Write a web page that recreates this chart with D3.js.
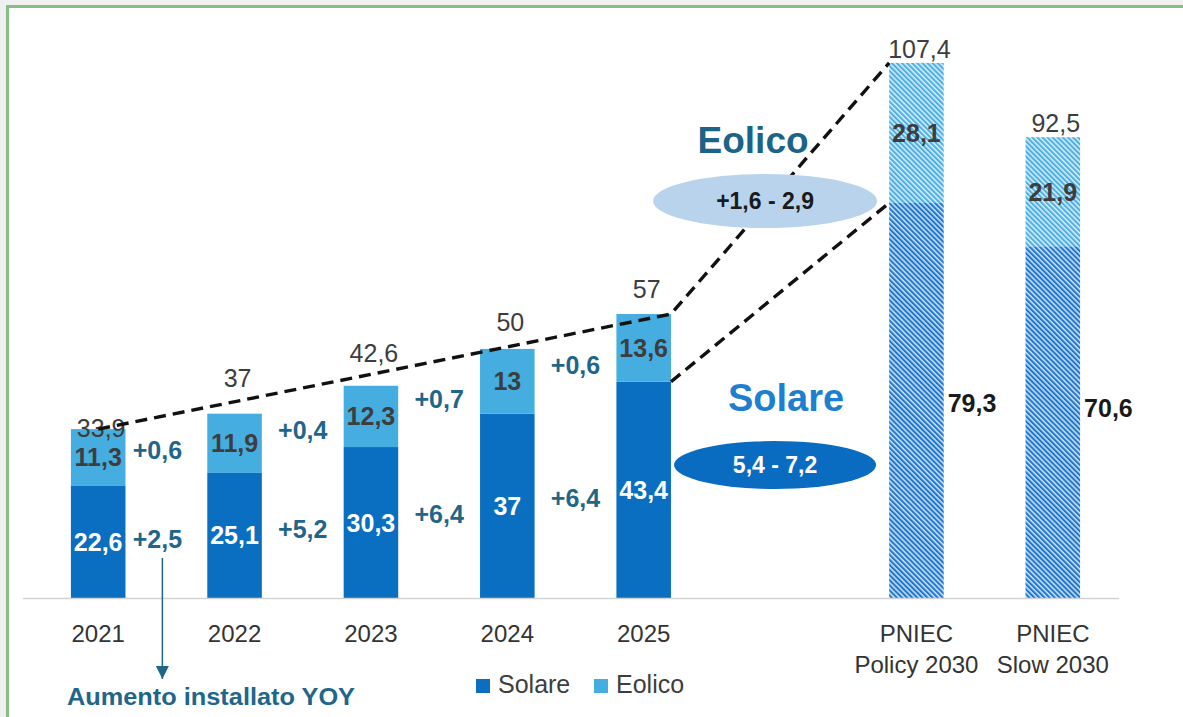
<!DOCTYPE html>
<html>
<head>
<meta charset="utf-8">
<script src="https://cdn.jsdelivr.net/npm/d3@7"></script>
<style>
  body { margin: 0; background: #eff0ef; overflow: hidden; }
  svg { display: block; font-family: 'Liberation Sans', Arial, sans-serif; }
</style>
</head>
<body>
<div id="chart"></div>
<script>
// data
const years = ['2021', '2022', '2023', '2024', '2025']
const scenarios = ['PNIEC Policy 2030', 'PNIEC Slow 2030']
const solare = [22.6, 25.1, 30.3, 37, 43.4, 79.3, 70.6]
const eolico = [11.3, 11.9, 12.3, 13, 13.6, 28.1, 21.9]
const totali = [33.9, 37, 42.6, 50, 57, 107.4, 92.5]
const incrSolare = ['+2,5', '+5,2', '+6,4', '+6,4']
const incrEolico = ['+0,6', '+0,4', '+0,7', '+0,6']
const rangeEolico = '+1,6 - 2,9'
const rangeSolare = '5,4 - 7,2'
const tickLabels = [['2021'], ['2022'], ['2023'], ['2024'], ['2025'], ['PNIEC', 'Policy 2030'], ['PNIEC', 'Slow 2030']]

// layout only (label nudges in px)
const totalLift = [-8, 27, 24, 18, 16, 5, 5]
const solarLabelShift = [0, 0, 0, 0, 0, 3, -14]

let width = 1183
let height = 717

let svg = d3
  .select('#chart')
  .append('svg')
  .attr('width', width)
  .attr('height', height)

// panel
svg.append('rect')
  .attr('x', 7.5).attr('y', 6.5)
  .attr('width', 1220).attr('height', 760)
  .attr('fill', '#fff')
  .attr('stroke', '#85bf85')
  .attr('stroke-width', 3)

const fmt = v => String(v).replace('.', ',')

const cats = years.concat(scenarios)
const rows = cats.map((c, i) => ({ cat: c, solare: solare[i], eolico: eolico[i], totale: totali[i], scen: i >= years.length }))

// scales
let x = d3.scaleBand()
  .domain(years.concat(['gap'], scenarios))
  .range([30, 1121])
  .paddingInner(0.6)
  .paddingOuter(0.3)

let y = d3.scaleLinear().domain([0, 110]).range([598, 50])

const bw = x.bandwidth()
const cx = c => x(c) + bw / 2

// hatch patterns
let defs = svg.append('defs')
function hatch(id, base) {
  let p = defs.append('pattern')
    .attr('id', id)
    .attr('patternUnits', 'userSpaceOnUse')
    .attr('width', 3.6).attr('height', 3.6)
    .attr('patternTransform', 'rotate(-45)')
  p.append('rect').attr('width', 3.6).attr('height', 3.6).attr('fill', base)
  p.append('line').attr('x1', 1).attr('x2', 1).attr('y1', 0).attr('y2', 3.6)
    .attr('stroke', '#fff').attr('stroke-width', 1.2)
}
hatch('hatch-sol', '#1f78cf')
hatch('hatch-eol', '#4cb0e4')

const colors = { solare: '#0a6fc0', eolico: '#46ade0' }

let stack = d3.stack().keys(['solare', 'eolico'])(rows)

svg.append('g')
  .selectAll('g')
  .data(stack)
  .enter()
  .append('g')
  .each(function(layer) {
    d3.select(this)
      .selectAll('rect')
      .data(layer)
      .enter()
      .append('rect')
      .attr('x', d => x(d.data.cat))
      .attr('width', bw)
      .attr('y', d => y(d[1]))
      .attr('height', d => y(d[0]) - y(d[1]))
      .attr('fill', d => d.data.scen
        ? (layer.key === 'solare' ? 'url(#hatch-sol)' : 'url(#hatch-eol)')
        : colors[layer.key])
  })

// axis line
svg.append('line')
  .attr('x1', 23).attr('x2', 1119)
  .attr('y1', y(0) + 0.5).attr('y2', y(0) + 0.5)
  .attr('stroke', '#d2d2d2').attr('stroke-width', 1.5)

// tick labels
svg.append('g')
  .selectAll('text')
  .data(cats)
  .enter()
  .append('text')
  .attr('x', d => cx(d))
  .attr('y', 642)
  .attr('text-anchor', 'middle')
  .attr('font-size', 24)
  .attr('fill', '#333')
  .each(function(d, i) {
    tickLabels[i].forEach((t, j) => {
      d3.select(this).append('tspan')
        .attr('x', cx(d))
        .attr('dy', j === 0 ? 0 : 31)
        .text(t)
    })
  })

// segment labels
svg.append('g')
  .selectAll('text')
  .data(rows)
  .enter()
  .append('text')
  .attr('x', d => cx(d.cat))
  .attr('y', d => y(d.solare + d.eolico / 2))
  .attr('dy', '0.36em')
  .attr('text-anchor', 'middle')
  .attr('font-size', 25)
  .attr('font-weight', 'bold')
  .attr('fill', '#3d3d3d')
  .text(d => fmt(d.eolico))

svg.append('g')
  .selectAll('text')
  .data(rows)
  .enter()
  .append('text')
  .attr('x', d => d.scen ? x(d.cat) + bw + 4 : cx(d.cat))
  .attr('y', (d, i) => y(d.solare / 2) + solarLabelShift[i])
  .attr('dy', '0.36em')
  .attr('text-anchor', d => d.scen ? 'start' : 'middle')
  .attr('font-size', 25)
  .attr('font-weight', 'bold')
  .attr('fill', d => d.scen ? '#1a1a1a' : '#fff')
  .text(d => fmt(d.solare))

// totals
svg.append('g')
  .selectAll('text')
  .data(rows)
  .enter()
  .append('text')
  .attr('x', d => cx(d.cat) + 3)
  .attr('y', (d, i) => y(d.totale) - totalLift[i])
  .attr('text-anchor', 'middle')
  .attr('font-size', 25)
  .attr('fill', '#3d3d3d')
  .text(d => fmt(d.totale))

// yearly increments between bars
const midX = i => (cx(years[i]) + cx(years[i + 1])) / 2 + (i === 0 ? -9 : 0)
const incr = svg.append('g')
  .attr('font-size', 25)
  .attr('font-weight', 'bold')
  .attr('fill', '#1f6689')
  .attr('text-anchor', 'middle')

incr.selectAll('.inc-eol')
  .data(incrEolico)
  .enter()
  .append('text')
  .attr('class', 'inc-eol')
  .attr('x', (d, i) => midX(i))
  .attr('y', (d, i) => (y(solare[i] + eolico[i] / 2) + y(solare[i + 1] + eolico[i + 1] / 2)) / 2)
  .attr('dy', '0.36em')
  .text(d => d)

incr.selectAll('.inc-sol')
  .data(incrSolare)
  .enter()
  .append('text')
  .attr('class', 'inc-sol')
  .attr('x', (d, i) => midX(i))
  .attr('y', (d, i) => (y(solare[i] / 2) + y(solare[i + 1] / 2)) / 2)
  .attr('dy', '0.36em')
  .text(d => d)

// arrow + note
defs.append('marker')
  .attr('id', 'arrow')
  .attr('viewBox', '0 0 10 10')
  .attr('refX', 10).attr('refY', 5)
  .attr('markerWidth', 13).attr('markerHeight', 13)
  .attr('markerUnits', 'userSpaceOnUse')
  .attr('orient', 'auto')
  .append('path')
  .attr('d', 'M0,0 L10,5 L0,10 Z')
  .attr('fill', '#1f6689')

svg.append('line')
  .attr('x1', midX(0) + 5).attr('x2', midX(0) + 5)
  .attr('y1', 558).attr('y2', 679)
  .attr('stroke', '#1f6689').attr('stroke-width', 1.5)
  .attr('marker-end', 'url(#arrow)')

svg.append('text')
  .attr('x', 67).attr('y', 705)
  .attr('font-size', 23)
  .attr('font-weight', 'bold')
  .attr('fill', '#1f6689')
  .attr('textLength', 288)
  .attr('lengthAdjust', 'spacingAndGlyphs')
  .text('Aumento installato YOY')

// titles for the 2030 ranges
const gapX = cx('gap')
svg.append('text')
  .attr('x', gapX - 27).attr('y', 153)
  .attr('text-anchor', 'middle')
  .attr('font-size', 37).attr('font-weight', 'bold')
  .attr('fill', '#1c6487')
  .text('Eolico')

svg.append('text')
  .attr('x', gapX + 6).attr('y', 411)
  .attr('text-anchor', 'middle')
  .attr('font-size', 38).attr('font-weight', 'bold')
  .attr('fill', '#1e7fd0')
  .text('Solare')

// dashed trend lines
let line = d3.line()
const last = years[years.length - 1]
const pol = scenarios[0]
const dashed = [
  [[cx(years[0]), y(totali[0])], [x(last) + bw, y(totali[4])], [x(pol), y(totali[5])]],
  [[x(last) + bw, y(solare[4])], [x(pol), y(solare[5])]]
]
svg.append('g')
  .selectAll('path')
  .data(dashed)
  .enter()
  .append('path')
  .attr('d', line)
  .attr('fill', 'none')
  .attr('stroke', '#111')
  .attr('stroke-width', 3.4)
  .attr('stroke-dasharray', '12,7')

// range ellipses
svg.append('ellipse')
  .attr('cx', gapX - 15).attr('cy', 201)
  .attr('rx', 112).attr('ry', 27)
  .attr('fill', '#b9d3ed')
svg.append('text')
  .attr('x', gapX - 15).attr('y', 201)
  .attr('dy', '0.36em')
  .attr('text-anchor', 'middle')
  .attr('font-size', 23).attr('font-weight', 'bold')
  .attr('fill', '#1a1a1a')
  .text(rangeEolico)

svg.append('ellipse')
  .attr('cx', gapX - 5).attr('cy', 465)
  .attr('rx', 101).attr('ry', 24)
  .attr('fill', '#0a6cc0')
svg.append('text')
  .attr('x', gapX - 5).attr('y', 465)
  .attr('dy', '0.36em')
  .attr('text-anchor', 'middle')
  .attr('font-size', 23).attr('font-weight', 'bold')
  .attr('fill', '#fff')
  .text(rangeSolare)

// legend
let legend = svg.append('g').attr('transform', 'translate(476, 679)')
legend
  .selectAll('.legend-entry')
  .data(['solare', 'eolico'])
  .enter()
  .append('g')
  .attr('class', 'legend-entry')
  .attr('transform', (d, i) => `translate(${i * 118},0)`)
  .each(function(d) {
    let g = d3.select(this)
    g.append('rect').attr('width', 14).attr('height', 14).attr('fill', colors[d])
    g.append('text')
      .attr('x', 22).attr('y', 14)
      .attr('font-size', 25)
      .attr('fill', '#3d3d3d')
      .text(d.charAt(0).toUpperCase() + d.slice(1))
  })
</script>
</body>
</html>
